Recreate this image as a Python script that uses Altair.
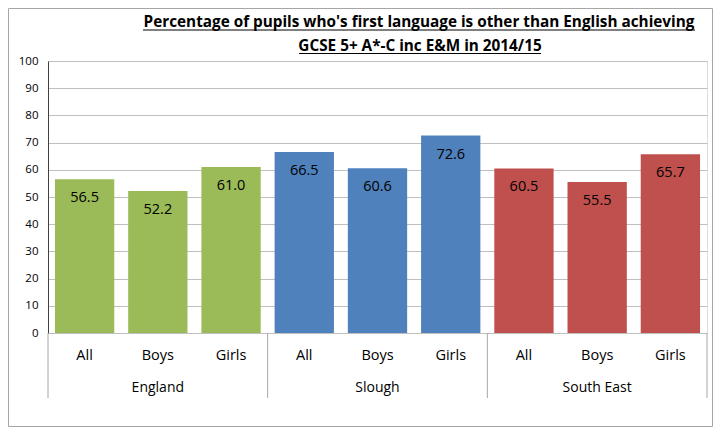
import altair as alt
import pandas as pd

regions = ["England", "England", "England", "Slough", "Slough", "Slough",
           "South East", "South East", "South East"]
subs = ["All", "Boys", "Girls"] * 3
values = [56.5, 52.2, 61.0, 66.5, 60.6, 72.6, 60.5, 55.5, 65.7]
group_names = ["England", "Slough", "South East"]
colors = ["#9BBB59", "#4F81BD", "#C0504D"]
title_lines = ["Percentage of pupils who's first language is other than English achieving",
               "GCSE 5+ A*-C inc E&M in 2014/15"]
y_ticks = list(range(0, 101, 10))

keys = [f"{r}|{s}" for r, s in zip(regions, subs)]
df = pd.DataFrame({"region": regions, "sub": subs, "value": values, "key": keys})
df["label"] = df["value"].map(lambda v: f"{v:.1f}")

W, H = 659, 272
FONT = "Open Sans"

xscale = alt.Scale(domain=keys, paddingInner=0, paddingOuter=0)
xaxis = alt.Axis(labelExpr="split(datum.label, '|')[1]", labelAngle=0,
                 ticks=False, domainColor="#bfbfbf", labelFont=FONT,
                 labelFontSize=14.5, labelColor="#000000",
                 labelBaseline="middle", labelPadding=22)
yscale = alt.Scale(domain=[0, 100], nice=False)
yaxis = alt.Axis(values=y_ticks, grid=True, gridColor="#bfbfbf", ticks=False,
                 domainColor="#404040", labelFont=FONT, labelFontSize=11.5,
                 labelColor="#000000", labelPadding=10, labelOverlap=False)

bars = alt.Chart(df).mark_bar(width=alt.RelativeBandSize(0.81)).encode(
    x=alt.X("key:N", sort=keys, scale=xscale, title=None, axis=xaxis),
    y=alt.Y("value:Q", scale=yscale, title=None, axis=yaxis),
    color=alt.Color("region:N", scale=alt.Scale(domain=group_names, range=colors), legend=None),
)

labels = alt.Chart(df).mark_text(baseline="middle", dy=19, font=FONT, fontSize=14.5,
                                 color="#000000").encode(
    x=alt.X("key:N", sort=keys, scale=xscale, title=None, axis=xaxis),
    y=alt.Y("value:Q", scale=yscale, title=None, axis=yaxis),
    text="label:N",
)

groups_df = pd.DataFrame({"group": group_names,
                          "key": [f"{g}|Boys" for g in group_names]})
group_labels = alt.Chart(groups_df).mark_text(baseline="middle", font=FONT, fontSize=14,
                                              color="#000000").encode(
    x=alt.X("key:N", sort=keys, scale=xscale, title=None, axis=xaxis),
    y=alt.value(H + 55),
    text="group:N",
)

sep_df = pd.DataFrame({"key": [f"{g}|All" for g in group_names]})
seps = alt.Chart(sep_df).mark_rule(color="#a6a6a6").encode(
    x=alt.X("key:N", sort=keys, scale=xscale, bandPosition=0, title=None, axis=xaxis),
    y=alt.value(H), y2=alt.value(H + 65),
)
sep_end = alt.Chart(pd.DataFrame({"key": [keys[-1]]})).mark_rule(color="#a6a6a6").encode(
    x=alt.X("key:N", sort=keys, scale=xscale, bandPosition=1, title=None, axis=xaxis),
    y=alt.value(H), y2=alt.value(H + 65),
)

title_df = pd.DataFrame({"t": title_lines, "i": [0, 1]})
title1 = alt.Chart(title_df.iloc[[0]]).mark_text(font=FONT, fontSize=15.3, fontWeight="bold",
                                                  baseline="alphabetic", color="#000000").encode(
    x=alt.value(371), y=alt.value(-34), text="t:N")
title2 = alt.Chart(title_df.iloc[[1]]).mark_text(font=FONT, fontSize=15.3, fontWeight="bold",
                                                  baseline="alphabetic", color="#000000").encode(
    x=alt.value(372), y=alt.value(-10), text="t:N")
ul1 = alt.Chart(title_df.iloc[[0]]).mark_rule(color="#000000", strokeWidth=1.2).encode(
    x=alt.value(95), x2=alt.value(647), y=alt.value(-31))
ul2 = alt.Chart(title_df.iloc[[1]]).mark_rule(color="#000000", strokeWidth=1.2).encode(
    x=alt.value(251), x2=alt.value(493), y=alt.value(-7.5))

PAD_L, PAD_T, PAD_R, PAD_B = 40, 53, 6, 94
frame = alt.Chart(title_df.iloc[[0]]).mark_rect(fill=None, stroke="#a6a6a6",
                                                 strokeWidth=1).encode(
    x=alt.value(-PAD_L + 0.5), x2=alt.value(W + PAD_R - 0.5),
    y=alt.value(-PAD_T + 0.5), y2=alt.value(H + PAD_B - 0.5))

chart = alt.layer(frame, seps, sep_end, bars, labels, group_labels,
                  title1, title2, ul1, ul2).properties(
    width=W, height=H,
    autosize=alt.AutoSizeParams(type="none"),
    padding={"left": PAD_L, "top": PAD_T, "right": PAD_R, "bottom": PAD_B},
).configure_view(stroke="#404040", strokeWidth=1).configure(background="white")

chart.save("out.html", embed_options={"renderer": "svg", "actions": False})
